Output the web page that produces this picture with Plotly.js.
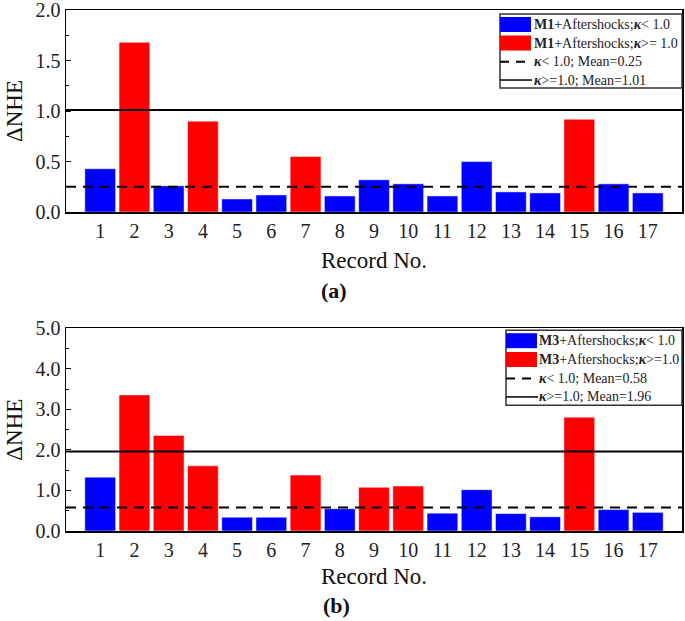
<!DOCTYPE html>
<html>
<head>
<meta charset="utf-8">
<script src="https://cdn.plot.ly/plotly-3.0.1.min.js"></script>
<style>html,body{margin:0;padding:0;background:#fff;}#chart{width:685px;height:621px;}</style>
</head>
<body>
<div id="chart"></div>
<script>
// ---------- data ----------
const records = [1,2,3,4,5,6,7,8,9,10,11,12,13,14,15,16,17];
const tickLabels = ["1","2","3","4","5","6","7","8","9","10","11","12","13","14","15","16","17"];
// (a) M1 + Aftershocks
const nheM1 = [0.43,1.68,0.26,0.90,0.13,0.17,0.55,0.16,0.32,0.28,0.16,0.50,0.20,0.19,0.92,0.28,0.19];
const highKappaM1 = [0,1,0,1,0,0,1,0,0,0,0,0,0,0,1,0,0]; // 1 = kappa >= 1.0
const meansM1 = [0.25, 1.01]; // [kappa<1, kappa>=1]
// (b) M3 + Aftershocks
const nheM3 = [1.33,3.36,2.36,1.61,0.34,0.34,1.38,0.55,1.08,1.11,0.44,1.02,0.43,0.35,2.81,0.53,0.46];
const highKappaM3 = [0,1,1,1,0,0,1,0,1,1,0,0,0,0,1,0,0];
const meansM3 = [0.58, 1.96];
const xSpan = [0, 18];

const legendA = ["<b>M1</b>+Aftershocks;<b><i>κ</i></b>< 1.0", "<b>M1</b>+Aftershocks;<b><i>κ</i></b>>= 1.0",
                 "<b><i>κ</i></b>< 1.0; Mean=0.25", "<b><i>κ</i></b>>=1.0; Mean=1.01"];
const legendB = ["<b>M3</b>+Aftershocks;<b><i>κ</i></b>< 1.0", "<b>M3</b>+Aftershocks;<b><i>κ</i></b>>=1.0",
                 "<b><i>κ</i></b>< 1.0; Mean=0.58", "<b><i>κ</i></b>>=1.0; Mean=1.96"];

// ---------- layout helpers ----------
const W = 685, H = 621, ML = 66, MR = 3, MT = 10, MB = 90.3;
const PW = W - ML - MR, PH = H - MT - MB;
const X = px => (px - ML) / PW;
const Y = py => (H - MB - py) / PH;
const FONT = "Liberation Serif";
const BLUE = "#0000FF", RED = "#FF0000";

function pick(vals, flags, want) { return vals.map((v, i) => flags[i] === want ? v : null); }

function panelTraces(vals, flags, means, xa, ya) {
  return [
    {type: "bar", x: records, y: pick(vals, flags, 0), xaxis: xa, yaxis: ya, width: 0.9,
     marker: {color: BLUE, line: {color: "rgba(255,255,255,0.5)", width: 1}}, showlegend: false, hoverinfo: "x+y"},
    {type: "bar", x: records, y: pick(vals, flags, 1), xaxis: xa, yaxis: ya, width: 0.9,
     marker: {color: RED, line: {color: "rgba(255,255,255,0.5)", width: 1}}, showlegend: false, hoverinfo: "x+y"},
    {type: "scatter", mode: "lines", x: xSpan, y: [means[0], means[0]], xaxis: xa, yaxis: ya,
     line: {color: "#000", width: 2, dash: "10px,7px"}, showlegend: false, hoverinfo: "skip"},
    {type: "scatter", mode: "lines", x: xSpan, y: [means[1], means[1]], xaxis: xa, yaxis: ya,
     line: {color: "#000", width: 2}, showlegend: false, hoverinfo: "skip"}
  ];
}

const data = [...panelTraces(nheM1, highKappaM1, meansM1, "x", "y"),
              ...panelTraces(nheM3, highKappaM3, meansM3, "x2", "y2")];

function xaxisDef(anchor, standoff) {
  return {anchor: anchor, domain: [0, 1], range: xSpan, tickmode: "array", tickvals: records, ticktext: tickLabels,
          ticks: "", showgrid: false, zeroline: false, showline: true, linecolor: "#000", linewidth: 1.5, mirror: true,
          tickfont: {family: FONT, size: 20, color: "#222"},
          title: {text: "Record No.", font: {family: FONT, size: 23, color: "#111"}, standoff: standoff}};
}
function yaxisDef(anchor, domain, range, dtick, minor) {
  return {anchor: anchor, domain: domain, range: range, dtick: dtick, tick0: 0, tickformat: ".1f",
          ticks: "inside", ticklen: 5, tickwidth: 1, tickcolor: "#000", ticklabeloverflow: "allow",
          minor: {dtick: minor, ticks: "inside", ticklen: 3, tickcolor: "#000"},
          showgrid: false, zeroline: false, showline: true, linecolor: "#000", linewidth: 1.5, mirror: true,
          tickfont: {family: FONT, size: 20, color: "#222"},
          title: {text: "ΔNHE", font: {family: FONT, size: 23, color: "#111"}, standoff: 6}};
}

// custom legends
const shapes = [], annotations = [];
function addLegend(box, rows, textX, labels) {
  shapes.push({type: "rect", xref: "paper", yref: "paper", x0: X(box[0]), x1: X(box[1]), y0: Y(box[3]), y1: Y(box[2]),
               line: {color: "#333", width: 1.5}, fillcolor: "#fff", layer: "above"});
  shapes.push({type: "rect", xref: "paper", yref: "paper", x0: X(box[0]), x1: X(box[0] + 31), y0: Y(rows[0] + 7.5), y1: Y(rows[0] - 7.5),
               line: {width: 0}, fillcolor: BLUE, layer: "above"});
  shapes.push({type: "rect", xref: "paper", yref: "paper", x0: X(box[0]), x1: X(box[0] + 31), y0: Y(rows[1] + 7.5), y1: Y(rows[1] - 7.5),
               line: {width: 0}, fillcolor: RED, layer: "above"});
  shapes.push({type: "line", xref: "paper", yref: "paper", x0: X(box[0]), x1: X(box[0] + 30), y0: Y(rows[2]), y1: Y(rows[2]),
               line: {color: "#000", width: 2, dash: "9px,7px"}, layer: "above"});
  shapes.push({type: "line", xref: "paper", yref: "paper", x0: X(box[0]), x1: X(box[0] + 32), y0: Y(rows[3]), y1: Y(rows[3]),
               line: {color: "#000", width: 1.5}, layer: "above"});
  labels.forEach((t, i) => annotations.push({xref: "paper", yref: "paper", x: X(textX), y: Y(rows[i]),
      xanchor: "left", yanchor: "middle", text: t, showarrow: false, font: {family: FONT, size: 14, color: "#222"}}));
}
addLegend([500, 682, 14, 88], [24.5, 43, 61.7, 80], 532, legendA);
addLegend([506, 682, 330, 405], [340.5, 359.3, 378.3, 396.7], 537, legendB);

annotations.push({xref: "paper", yref: "paper", x: X(334), y: Y(290), text: "<b>(a)</b>", showarrow: false,
                  xanchor: "center", yanchor: "middle", font: {family: FONT, size: 22, color: "#111"}});
annotations.push({xref: "paper", yref: "paper", x: X(336), y: Y(605), text: "<b>(b)</b>", showarrow: false,
                  xanchor: "center", yanchor: "middle", font: {family: FONT, size: 22, color: "#111"}});

const layout = {
  width: W, height: H, margin: {l: ML, r: MR, t: MT, b: MB},
  paper_bgcolor: "#fff", plot_bgcolor: "#fff", bargap: 0.1, barmode: "overlay",
  xaxis: xaxisDef("y", 11), yaxis: yaxisDef("x", [Y(212), 1], [0, 2], 0.5, 0.25),
  xaxis2: xaxisDef("y2", 8), yaxis2: yaxisDef("x2", [0, Y(328.3)], [0, 5], 1, 0.5),
  shapes: shapes, annotations: annotations, showlegend: false,
  font: {family: FONT}
};

Plotly.newPlot("chart", data, layout, {displayModeBar: false, staticPlot: true});
</script>
</body>
</html>
